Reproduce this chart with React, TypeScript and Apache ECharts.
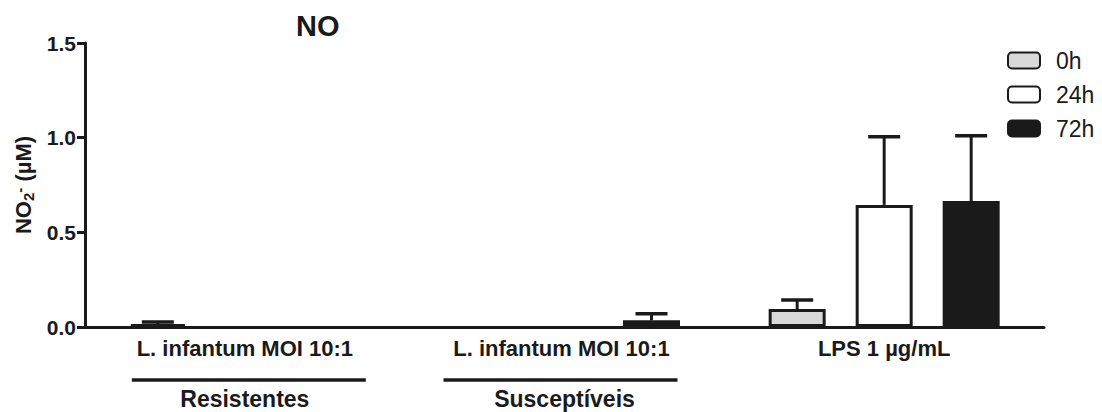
import React, { useEffect, useRef } from "react";
import * as echarts from "echarts";

const CATEGORIES = ["L. infantum MOI 10:1", "L. infantum MOI 10:1 ", "LPS 1 µg/mL"];
const GROUP_LABELS = ["Resistentes", "Susceptíveis", ""];
const SERIES_NAMES = ["0h", "24h", "72h"];
const MEANS_0H = [0.015, 0, 0.095];
const MEANS_24H = [0, 0, 0.645];
const MEANS_72H = [0, 0.035, 0.665];
const ERR_0H = [0.012, 0, 0.048];
const ERR_24H = [0, 0, 0.36];
const ERR_72H = [0, 0.035, 0.345];

const FONT = "'Liberation Sans', Arial, Helvetica, sans-serif";
const INK = "#1a1a1a";
const BAR_W = 57;
const BAR_GAP_PX = 30;

export default function App() {
  const ref = useRef<HTMLDivElement>(null);
  useEffect(() => {
    if (!ref.current) return;
    const chart = echarts.init(ref.current, undefined, { renderer: "svg" });
    const means = [MEANS_0H, MEANS_24H, MEANS_72H];
    const errs = [ERR_0H, ERR_24H, ERR_72H];
    const fills = ["#d9d9d9", "#ffffff", INK];

    const errData: number[][] = [];
    means.forEach((m, s) => {
      m.forEach((v, c) => {
        if (errs[s][c] > 0) errData.push([c, v, errs[s][c], s]);
      });
    });

    const option: any = {
      animation: false,
      backgroundColor: "#ffffff",
      title: {
        text: "NO",
        left: 291,
        top: 6,
        textStyle: { fontFamily: FONT, fontWeight: "bold", fontSize: 29, color: INK },
      },
      legend: {
        orient: "vertical",
        left: 1007,
        top: 49,
        padding: 0,
        itemWidth: 32,
        itemHeight: 16,
        itemGap: 11,
        icon: "roundRect",
        data: SERIES_NAMES,
        textStyle: { fontFamily: FONT, fontSize: 23, color: INK, padding: [0, 0, 0, 11] },
      },
      grid: { left: 85, right: 58, top: 43, bottom: 85, containLabel: false },
      xAxis: [
        {
          type: "category",
          data: CATEGORIES,
          axisLine: { lineStyle: { color: INK, width: 3 } },
          axisTick: { alignWithLabel: true, length: 6, lineStyle: { color: INK, width: 2 } },
          axisLabel: { fontFamily: FONT, fontWeight: "bold", fontSize: 22, color: INK, margin: 10 },
          splitLine: { show: false },
        },
        {
          type: "category",
          data: GROUP_LABELS,
          position: "bottom",
          offset: 52,
          axisLine: { show: false },
          axisTick: { show: false },
          axisLabel: { fontFamily: FONT, fontWeight: "bold", fontSize: 23, color: INK, margin: 8 },
          splitLine: { show: false },
        },
      ],
      yAxis: {
        type: "value",
        min: 0,
        max: 1.5,
        interval: 0.5,
        axisLine: { show: true, lineStyle: { color: INK, width: 3 } },
        axisTick: { show: true, length: 8, lineStyle: { color: INK, width: 3 } },
        axisLabel: {
          fontFamily: FONT,
          fontWeight: "bold",
          fontSize: 21,
          color: INK,
          margin: 9,
          formatter: (v: number) => v.toFixed(1),
        },
        splitLine: { show: false },
        name: "{a|NO}{b|2}{c|-}{a| (µM)}",
        nameLocation: "middle",
        nameGap: 49,
        nameRotate: 90,
        nameTextStyle: {
          fontFamily: FONT,
          fontWeight: "bold",
          fontSize: 22,
          color: INK,
          rich: {
            a: { fontFamily: FONT, fontWeight: "bold", fontSize: 22, color: INK },
            b: { fontFamily: FONT, fontWeight: "bold", fontSize: 15, color: INK, verticalAlign: "bottom", padding: [9, 0, 0, 0] },
            c: { fontFamily: FONT, fontWeight: "bold", fontSize: 15, color: INK, verticalAlign: "top", padding: [0, 0, 9, 0] },
          },
        },
      },
      series: [
        ...SERIES_NAMES.map((name, s) => ({
          name,
          type: "bar",
          data: means[s].map((v) => (v > 0 ? v : null)),
          barWidth: BAR_W,
          barGap: `${(BAR_GAP_PX / BAR_W) * 100}%`,
          itemStyle: { color: fills[s], borderColor: INK, borderWidth: 3 },
          z: 3,
        })),
        {
          name: "err",
          type: "custom",
          data: errData,
          encode: { x: 0, y: 1 },
          z: 2,
          renderItem: (params: any, api: any) => {
            const c = api.value(0);
            const m = api.value(1);
            const e = api.value(2);
            const s = api.value(3);
            const base = api.coord([c, m]);
            const top = api.coord([c, m + e]);
            const x = base[0] + (s - 1) * (BAR_W + BAR_GAP_PX);
            return {
              type: "group",
              children: [
                { type: "line", shape: { x1: x, y1: base[1], x2: x, y2: top[1] }, style: { stroke: INK, lineWidth: 3 } },
                { type: "line", shape: { x1: x - 16, y1: top[1], x2: x + 16, y2: top[1] }, style: { stroke: INK, lineWidth: 3.5 } },
              ],
            };
          },
        },
      ],
    };
    chart.setOption(option);

    const p0 = chart.convertToPixel({ xAxisIndex: 0 }, 0) as number;
    const p1 = chart.convertToPixel({ xAxisIndex: 0 }, 1) as number;
    const band = p1 - p0;
    const half = band * 0.366;
    const lineY = (chart.convertToPixel({ yAxisIndex: 0 }, 0) as number) + 53;
    chart.setOption({
      graphic: [0, 1].map((i) => {
        const cx = p0 + i * band + (i === 0 ? 4 : -4);
        return {
          type: "line",
          shape: { x1: cx - half, y1: lineY, x2: cx + half, y2: lineY },
          style: { stroke: INK, lineWidth: 3.5 },
        };
      }),
    });

    return () => chart.dispose();
  }, []);
  return (
    <div
      ref={ref}
      style={{ position: "fixed", left: 0, top: 0, width: 1102, height: 412, background: "#fff" }}
    />
  );
}
